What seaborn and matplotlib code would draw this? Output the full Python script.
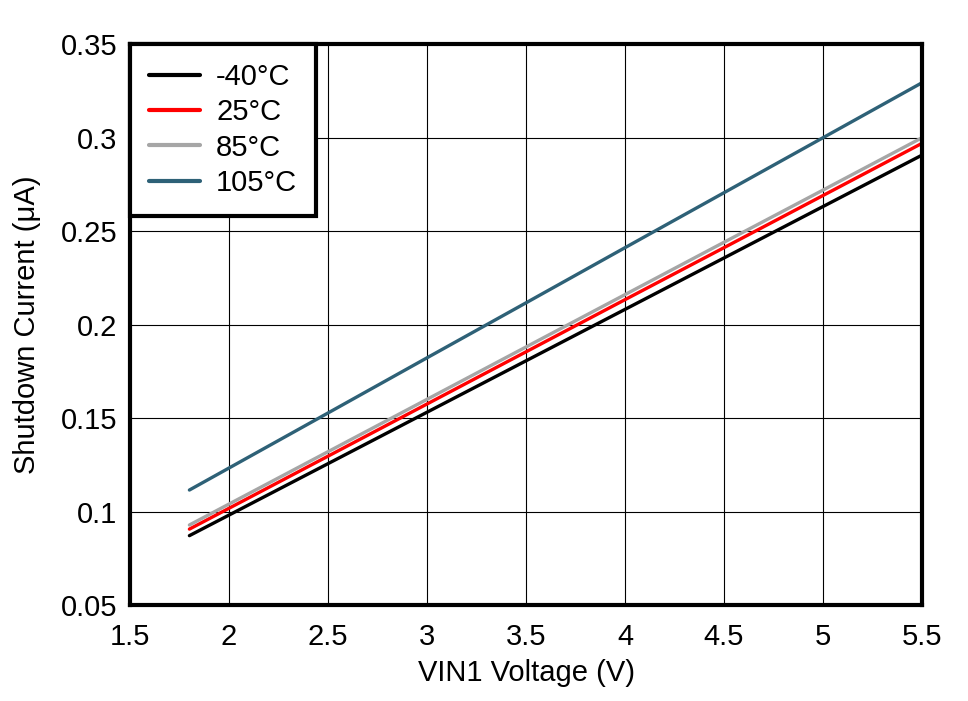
import pandas as pd
import matplotlib.pyplot as plt
import seaborn as sns

# values
voltage = [1.8, 2.5, 3.0, 3.5, 4.0, 4.5, 5.0, 5.5]
i_m40 = [0.0871, 0.1256, 0.1531, 0.1806, 0.2081, 0.2356, 0.2631, 0.2906]
i_25 = [0.0906, 0.1296, 0.1575, 0.1854, 0.2133, 0.2411, 0.2690, 0.2969]
i_85 = [0.0928, 0.1320, 0.1600, 0.1880, 0.2160, 0.2440, 0.2719, 0.2999]
i_105 = [0.1115, 0.1527, 0.1822, 0.2116, 0.2411, 0.2705, 0.2999, 0.3293]
temps = ['-40°C', '25°C', '85°C', '105°C']
colors = ['#000000', '#FF0000', '#A6A6A6', '#2E6177']

rows = []
for t, vals in zip(temps, [i_m40, i_25, i_85, i_105]):
    for v, i in zip(voltage, vals):
        rows.append({'Voltage': v, 'Current': i, 'Temp': t})
df = pd.DataFrame(rows)

sns.set_style('white')
plt.rcParams['font.family'] = ['Liberation Sans', 'DejaVu Sans']
plt.rcParams['text.color'] = 'black'

fig = plt.figure(figsize=(9.68, 7.01), dpi=100)
ax = fig.add_axes([0.1343, 0.1369, 0.8182, 0.8003])

sns.lineplot(data=df, x='Voltage', y='Current', hue='Temp', hue_order=temps,
             palette=colors, linewidth=2.4, ax=ax)

ax.set_xlim(1.5, 5.5)
ax.set_ylim(0.05, 0.35)
ax.set_xticks([1.5, 2, 2.5, 3, 3.5, 4, 4.5, 5, 5.5])
ax.set_xticklabels(['1.5', '2', '2.5', '3', '3.5', '4', '4.5', '5', '5.5'])
ax.set_yticks([0.05, 0.1, 0.15, 0.2, 0.25, 0.3, 0.35])
ax.set_yticklabels(['0.05', '0.1', '0.15', '0.2', '0.25', '0.3', '0.35'])
ax.grid(True, color='black', linewidth=0.8)
ax.set_axisbelow(True)
ax.tick_params(axis='both', length=0, labelsize=21, colors='black')
ax.tick_params(axis='x', pad=13)
ax.tick_params(axis='y', pad=9)
for sp in ax.spines.values():
    sp.set_color('black')
    sp.set_linewidth(3)

ax.set_xlabel('VIN1 Voltage (V)', fontsize=21, color='black', labelpad=6)
ax.set_ylabel('Shutdown Current (μA)', fontsize=21, color='black', labelpad=14)

leg = ax.legend(loc='upper left', borderaxespad=0, fontsize=21, frameon=True,
                fancybox=False, handlelength=1.75, labelspacing=0.25,
                handletextpad=0.55, borderpad=0.65)
leg.get_frame().set_edgecolor('black')
leg.get_frame().set_linewidth(3)
leg.get_frame().set_alpha(1)
for txt in leg.get_texts():
    txt.set_color('black')
for line in leg.get_lines():
    line.set_linewidth(3)

plt.savefig('out.png', dpi=100)
